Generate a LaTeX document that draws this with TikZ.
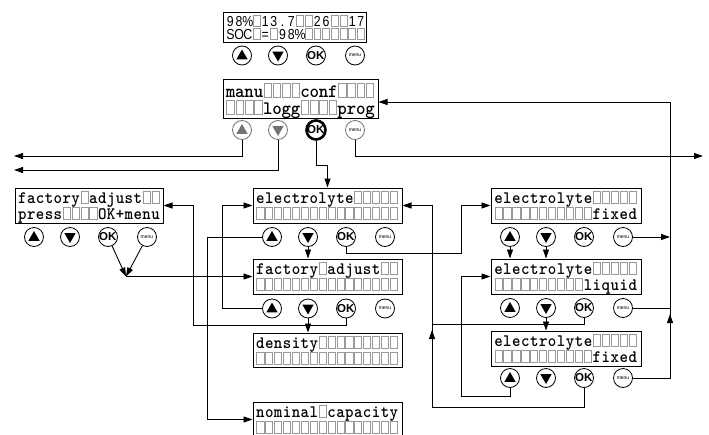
\documentclass[tikz,border=0pt]{standalone}
\usepackage{fontspec}
\usepackage{graphicx}
\usetikzlibrary{arrows.meta,calc}
\newfontfamily\lcdsans{Liberation Sans}
\newcommand\lcddot{.}
\newcommand\fmid{\def\chsc{0.92}\ttfamily\bfseries\fontsize{17.5}{17.5}\selectfont}
\newcommand\fbig{\def\chsc{0.95}\ttfamily\bfseries\fontsize{19}{19}\selectfont}
\newcommand\ftopf{\def\chsc{0.85}\lcdsans\fontsize{14.5}{14.5}\selectfont}
\newcommand\okf{\lcdsans\bfseries\fontsize{11.5}{11.5}\selectfont}
\newcommand\menuf{\lcdsans\fontsize{5}{5}\selectfont}
\newcommand\lcdrow[7]{%
  \foreach \c [count=\i from 0] in {#7}{%
    \pgfmathsetmacro\cx{#2+\i*#4}%
    \if\c*%
      \draw[cellbox] (\cx-0.4*#4,#3-0.5*#5) rectangle (\cx+0.4*#4,#3+0.5*#5);%
    \else
      \node[chr] (#1-\i) at (\cx,#3+0.5*#5) {#6\scalebox{\chsc}[1]{\c}};%
    \fi
  }}
\newcommand\btnrow[5]{%
  \node[btn,draw=#4] (#1-up) at (#2+19,#3) {};
  \fill[#4] (#1-up.center) ++(0,-6) -- ++(5.6,9.8) -- ++(-11.2,0) -- cycle;
  \node[btn,draw=#4] (#1-dn) at (#2+55,#3) {};
  \fill[#4] (#1-dn.center) ++(0,6) -- ++(5.6,-9.8) -- ++(-11.2,0) -- cycle;
  \node[btn,line width=#5] (#1-ok) at (#2+93,#3) {};
  \node[okt] (#1-okt) at (#1-ok.center) {OK};
  \node[btn,draw=#4,font=\menuf] (#1-mn) at (#2+132,#3) {menu};
}
\begin{document}
\begin{tikzpicture}[x=1pt,y=-1pt,
  lcdframe/.style={draw,line width=1pt,rectangle,inner sep=0pt},
  cellbox/.style={draw=black!40,line width=0.8pt},
  chr/.style={inner sep=0pt,anchor=base},
  btn/.style={circle,draw,line width=0.8pt,minimum size=19pt,inner sep=0pt},
  okt/.style={inner sep=0pt,font=\okf,xshift=-0.3pt},
  wire/.style={draw,line width=0.9pt},
  conn/.style={draw,line width=0.9pt,-{Triangle[length=9pt,width=6pt]}}]
\clip (0,0) rectangle (709,434);
% ---- displays ----
\node[lcdframe,minimum width=143,minimum height=30] (disp0) at (294.5,27) {};
\lcdrow{d0a}{230.4}{20.5}{8.7}{11}{\ftopf}{9,8,\%,*,1,3,\lcddot,7,*,*,2,6,*,*,1,7}
\lcdrow{d0b}{230.4}{33.5}{8.7}{11}{\ftopf}{S,O,C,*,=,*,9,8,\%,*,*,*,*,*,*,*}
\btnrow{tp}{223}{55.5}{black}{0.8pt}

\node[lcdframe,minimum width=155,minimum height=39] (disp1) at (300.5,98.5) {};
\lcdrow{d1a}{230.6}{90}{9.3}{14}{\fbig}{m,a,n,u,*,*,*,*,c,o,n,f,*,*,*,*}
\lcdrow{d1b}{230.6}{107.5}{9.3}{14}{\fbig}{*,*,*,*,l,o,g,g,*,*,*,*,p,r,o,g}
\btnrow{mu}{223}{130}{black!55}{2.6pt}

\node[lcdframe,minimum width=148,minimum height=35] (lb) at (89,205.5) {};
\lcdrow{lba}{22.4}{197.5}{8.875}{12}{\fmid}{f,a,c,t,o,r,y,*,a,d,j,u,s,t,*,*}
\lcdrow{lbb}{22.4}{213.5}{8.875}{12}{\fmid}{p,r,e,s,s,*,*,*,*,O,K,+,m,e,n,u}
\btnrow{lb}{15}{237}{black}{0.8pt}

\node[lcdframe,minimum width=149,minimum height=35] (elec) at (327.5,205.5) {};
\lcdrow{ela}{260.4}{197.5}{8.9}{12}{\fmid}{e,l,e,c,t,r,o,l,y,t,e,*,*,*,*,*}
\lcdrow{elb}{260.4}{213.5}{8.9}{12}{\fmid}{*,*,*,*,*,*,*,*,*,*,*,*,*,*,*,*}
\btnrow{el}{253}{237}{black}{0.8pt}

\node[lcdframe,minimum width=149,minimum height=35] (fa2) at (327.5,276.5) {};
\lcdrow{faa}{260.4}{268.5}{8.9}{12}{\fmid}{f,a,c,t,o,r,y,*,a,d,j,u,s,t,*,*}
\lcdrow{fab}{260.4}{284.5}{8.9}{12}{\fmid}{*,*,*,*,*,*,*,*,*,*,*,*,*,*,*,*}
\btnrow{fa}{253}{308.5}{black}{0.8pt}

\node[lcdframe,minimum width=149,minimum height=34] (den) at (327.5,350) {};
\lcdrow{dea}{260.4}{342}{8.9}{12}{\fmid}{d,e,n,s,i,t,y,*,*,*,*,*,*,*,*,*}
\lcdrow{deb}{260.4}{358}{8.9}{12}{\fmid}{*,*,*,*,*,*,*,*,*,*,*,*,*,*,*,*}

\node[lcdframe,minimum width=149,minimum height=35] (nom) at (327.5,419.5) {};
\lcdrow{noa}{260.4}{411.5}{8.9}{12}{\fmid}{n,o,m,i,n,a,l,*,c,a,p,a,c,i,t,y}
\lcdrow{nob}{260.4}{427.5}{8.9}{12}{\fmid}{*,*,*,*,*,*,*,*,*,*,*,*,*,*,*,*}

\node[lcdframe,minimum width=150,minimum height=35] (ftop) at (566,205.5) {};
\lcdrow{fta}{498.5}{197.5}{8.95}{12}{\fmid}{e,l,e,c,t,r,o,l,y,t,e,*,*,*,*,*}
\lcdrow{ftb}{498.5}{213.5}{8.95}{12}{\fmid}{*,*,*,*,*,*,*,*,*,*,*,f,i,x,e,d}
\btnrow{ft}{491}{237}{black}{0.8pt}

\node[lcdframe,minimum width=150,minimum height=35] (liq) at (566,276.5) {};
\lcdrow{lqa}{498.5}{268.5}{8.95}{12}{\fmid}{e,l,e,c,t,r,o,l,y,t,e,*,*,*,*,*}
\lcdrow{lqb}{498.5}{284.5}{8.95}{12}{\fmid}{*,*,*,*,*,*,*,*,*,*,l,i,q,u,i,d}
\btnrow{lq}{491}{308}{black}{0.8pt}

\node[lcdframe,minimum width=150,minimum height=35] (bfix) at (566,348.5) {};
\lcdrow{bfa}{498.5}{340.5}{8.95}{12}{\fmid}{e,l,e,c,t,r,o,l,y,t,e,*,*,*,*,*}
\lcdrow{bfb}{498.5}{356.5}{8.95}{12}{\fmid}{*,*,*,*,*,*,*,*,*,*,*,f,i,x,e,d}
\btnrow{bf}{491}{378}{black}{0.8pt}

% ---- connectors ----
\coordinate (arrL1) at (14,156);
\coordinate (arrL2) at (14,170);
\coordinate (arrR) at (703,156);
\coordinate (busTop) at (670,102);
\coordinate (jn) at (126,276.5);
\coordinate (c1) at (193,325);
\coordinate (jR) at (432,324);

\draw[conn] (mu-up.south) |- (arrL1);
\draw[conn] (mu-dn.south) |- (arrL2);
\draw[conn] (mu-ok.south) -- ++(0,25) -| (elec.north);
\draw[conn] (mu-mn.south) |- (arrR);

\draw[conn] (bf-mn.east) -| (busTop) -- (busTop -| disp1.east);
\draw[wire] (lq-mn.east) -- (lq-mn.east -| busTop);
\draw[conn] ($(lq-mn.east -| busTop)+(0,22)$) -- ($(lq-mn.east -| busTop)+(0,6)$);
\draw[conn] (ft-mn.east) -- (ft-mn.east -| busTop);

\draw[conn] (lb-ok) -- (jn);
\draw[conn] (lb-mn) -- (jn);
\draw[conn] (jn) -- (fa2.west);

\draw[conn] (fa-ok.south) |- (c1) |- (lb.east);
\draw[conn] (el-up.west) -| ($(nom.west)+(-45,0)$) -- (nom.west);
\draw[conn] (fa-up.west) -| ($(elec.west)+(-30,0)$) -- (elec.west);
\draw[conn] (el-dn.south) -- (el-dn.south |- fa2.north);
\draw[conn] (fa-dn.south) -- (fa-dn.south |- den.north);
\draw[conn] (el-ok.south) -- ++(0,7) -| ($(ftop.west)+(-29,0)$) -- (ftop.west);

\draw[conn] (bf-ok.south) -- ++(0,20) -| ($(elec.east)+(30,0)$) -- (elec.east);
\draw[conn] ($(jR)+(0,22)$) -- ($(jR)+(0,6)$);
\draw[wire] (lq-ok.south) |- (jR);
\draw[conn] (bf-up.south) -- ++(0,8.5) -| ($(liq.west)+(-29,0)$) -- (liq.west);
\draw[conn] (ft-up.south) -- (ft-up.south |- liq.north);
\draw[conn] (ft-dn.south) -- (ft-dn.south |- liq.north);
\draw[conn] (lq-dn.south) -- (lq-dn.south |- bfix.north);
\end{tikzpicture}
\end{document}
